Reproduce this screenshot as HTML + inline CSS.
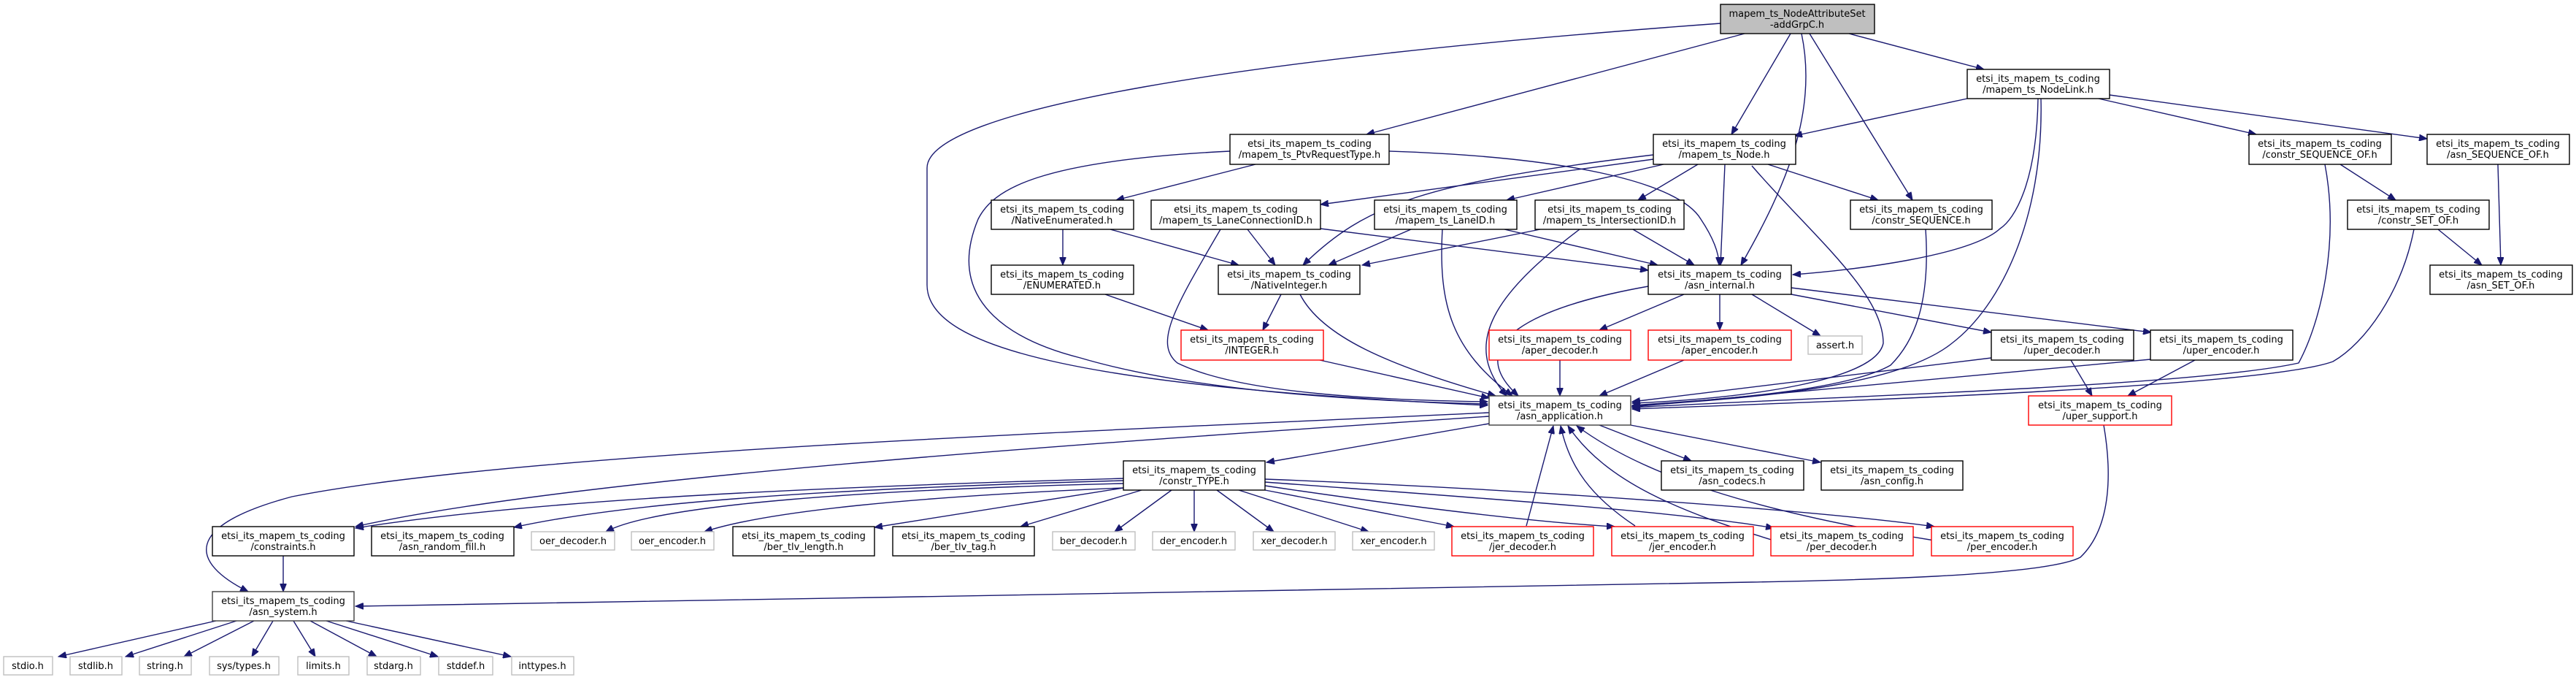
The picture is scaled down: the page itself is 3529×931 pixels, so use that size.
<!DOCTYPE html>
<html><head><meta charset="utf-8"><style>
html,body{margin:0;padding:0;background:#fff;width:3529px;height:931px;overflow:hidden}
svg{display:block}
text{font-family:"DejaVu Sans","Liberation Sans",sans-serif;font-size:13px;fill:#000;text-anchor:middle}
.e{fill:none;stroke:#191970;stroke-width:1.4}
.n{fill:#fff;stroke:#000;stroke-width:1.4}
.r{fill:#fff;stroke:#ff0000;stroke-width:1.4}
.g{fill:#fff;stroke:#bfbfbf;stroke-width:1.4}
.t{fill:#bfbfbf;stroke:#000;stroke-width:1.4}
</style></head><body>
<svg width="3529" height="931" viewBox="0 0 3529 931" xmlns="http://www.w3.org/2000/svg">
<defs><marker id="a" markerUnits="userSpaceOnUse" markerWidth="12" markerHeight="9" refX="11" refY="4.5" orient="auto"><path d="M0,0 L11,4.5 L0,9 z" fill="#191970" stroke="#191970"/></marker></defs>
<g class="e" marker-end="url(#a)">
<path d="M2357,32 C1700,80 1270,150 1270,230 L1270,390 C1270,480 1500,530 2038,555"/>
<path d="M2390,46 L1872,184"/>
<path d="M2453,46 L2372,184"/>
<path d="M2468,46 C2490,150 2450,250 2385,363"/>
<path d="M2479,46 L2620,274"/>
<path d="M2533,46 L2718,95"/>
<path d="M2695,135 L2458,186"/>
<path d="M2792,135 C2790,250 2760,300 2740,313 C2700,350 2540,370 2456,376"/>
<path d="M2796,135 C2800,300 2740,420 2674,470 C2600,530 2400,545 2236,556"/>
<path d="M2875,135 L3091,184"/>
<path d="M2890,130 L3325,190"/>
<path d="M3206,225 L3282,274"/>
<path d="M3185,225 C3205,330 3180,440 3149,497 C3000,530 2450,545 2236,558"/>
<path d="M3422,225 L3426,363"/>
<path d="M3340,314 L3400,363"/>
<path d="M3307,314 C3290,400 3240,470 3196,495 C3100,530 2500,550 2236,560"/>
<path d="M2638,314 C2645,420 2620,470 2590,500 C2520,540 2300,550 2236,555"/>
<path d="M2363,225 L2357,363"/>
<path d="M2422,225 L2573,274"/>
<path d="M2400,227 C2480,320 2580,400 2580,470 C2570,520 2400,545 2236,552"/>
<path d="M2265,212 C1950,250 1870,280 1785,363"/>
<path d="M2265,218 L1809,280"/>
<path d="M2279,225 L2064,274"/>
<path d="M2326,225 L2244,274"/>
<path d="M1685,207 C1420,220 1360,260 1340,300 C1290,420 1400,470 1480,490 C1650,540 1900,550 2038,553"/>
<path d="M1903,207 C2150,215 2300,250 2330,300 C2350,330 2355,350 2355,363"/>
<path d="M1720,225 L1529,274"/>
<path d="M1456,314 L1456,363"/>
<path d="M1521,314 L1697,363"/>
<path d="M1709,314 L1747,363"/>
<path d="M1809,313 L2258,370"/>
<path d="M1672,314 C1610,420 1580,470 1613,497 C1700,540 1900,548 2038,550"/>
<path d="M1933,314 L1820,363"/>
<path d="M2061,314 L2271,363"/>
<path d="M1976,314 C1970,420 1990,480 2072,542"/>
<path d="M2110,314 L1866,363"/>
<path d="M2237,314 L2321,363"/>
<path d="M2164,314 C2050,400 2000,470 2064,542"/>
<path d="M1514,403 L1655,452"/>
<path d="M1755,403 L1730,452"/>
<path d="M1781,403 C1810,460 1900,500 2049,542"/>
<path d="M2258,392 C2100,420 2000,470 2080,542"/>
<path d="M2307,403 L2191,452"/>
<path d="M2356,403 L2356,452"/>
<path d="M2400,403 L2494,460"/>
<path d="M2454,403 L2728,455"/>
<path d="M2454,394 L2947,455"/>
<path d="M1808,493 L2040,545"/>
<path d="M2137,493 L2137,542"/>
<path d="M2307,493 L2191,542"/>
<path d="M2728,490 L2236,550"/>
<path d="M2946,492 L2236,557"/>
<path d="M2837,493 L2866,542"/>
<path d="M3007,493 L2915,542"/>
<path d="M2882,582 C2892,640 2895,720 2850,763 C2800,790 2500,795 2400,797 L1200,818 L487,830"/>
<path d="M2040,565 C1500,590 700,620 400,680 C250,720 260,770 340,810"/>
<path d="M2040,580 L1735,633"/>
<path d="M2191,582 L2317,631"/>
<path d="M2234,582 L2494,633"/>
<path d="M388,761 L388,810"/>
<path d="M296,850 L80,899"/>
<path d="M324,850 L172,899"/>
<path d="M348,850 L252,899"/>
<path d="M374,850 L345,899"/>
<path d="M402,850 L432,899"/>
<path d="M425,850 L516,899"/>
<path d="M447,850 L600,899"/>
<path d="M474,850 L700,899"/>
<path d="M2040,570 C1600,600 800,650 487,721"/>
<path d="M1539,655 C1000,670 700,690 487,723"/>
<path d="M1539,658 C1100,670 850,690 704,722"/>
<path d="M1539,662 C1200,670 900,690 830,728"/>
<path d="M1539,668 C1250,680 1050,700 965,728"/>
<path d="M1539,668 L1198,722"/>
<path d="M1564,671 L1398,721"/>
<path d="M1605,671 L1527,728"/>
<path d="M1636,671 L1636,728"/>
<path d="M1667,671 L1745,728"/>
<path d="M1697,671 L1875,728"/>
<path d="M1733,671 L1992,721"/>
<path d="M1733,665 C1900,690 2100,715 2212,721"/>
<path d="M1733,660 C2000,680 2300,700 2430,723"/>
<path d="M1733,656 C2100,670 2500,700 2650,721"/>
<path d="M2091,720 L2128,583"/>
<path d="M2240,720 C2180,680 2150,640 2138,583"/>
<path d="M2430,740 C2300,700 2200,660 2148,583"/>
<path d="M2650,740 C2400,700 2250,650 2160,583"/>
</g>
<g>
<rect class="t" x="2357" y="6" width="211" height="40"/><text x="2462" y="23">mapem_ts_NodeAttributeSet</text><text x="2462" y="38">-addGrpC.h</text>
<rect class="n" x="2695" y="95" width="195" height="40"/><text x="2792" y="112">etsi_its_mapem_ts_coding</text><text x="2792" y="127">/mapem_ts_NodeLink.h</text>
<rect class="n" x="1685" y="184" width="218" height="41"/><text x="1794" y="201">etsi_its_mapem_ts_coding</text><text x="1794" y="216">/mapem_ts_PtvRequestType.h</text>
<rect class="n" x="2265" y="184" width="195" height="41"/><text x="2362" y="201">etsi_its_mapem_ts_coding</text><text x="2362" y="216">/mapem_ts_Node.h</text>
<rect class="n" x="3081" y="184" width="195" height="41"/><text x="3178" y="201">etsi_its_mapem_ts_coding</text><text x="3178" y="216">/constr_SEQUENCE_OF.h</text>
<rect class="n" x="3325" y="184" width="195" height="41"/><text x="3422" y="201">etsi_its_mapem_ts_coding</text><text x="3422" y="216">/asn_SEQUENCE_OF.h</text>
<rect class="n" x="1358" y="274" width="195" height="40"/><text x="1455" y="291">etsi_its_mapem_ts_coding</text><text x="1455" y="306">/NativeEnumerated.h</text>
<rect class="n" x="1577" y="274" width="232" height="40"/><text x="1693" y="291">etsi_its_mapem_ts_coding</text><text x="1693" y="306">/mapem_ts_LaneConnectionID.h</text>
<rect class="n" x="1883" y="274" width="195" height="40"/><text x="1980" y="291">etsi_its_mapem_ts_coding</text><text x="1980" y="306">/mapem_ts_LaneID.h</text>
<rect class="n" x="2103" y="274" width="204" height="40"/><text x="2205" y="291">etsi_its_mapem_ts_coding</text><text x="2205" y="306">/mapem_ts_IntersectionID.h</text>
<rect class="n" x="2535" y="274" width="194" height="40"/><text x="2632" y="291">etsi_its_mapem_ts_coding</text><text x="2632" y="306">/constr_SEQUENCE.h</text>
<rect class="n" x="3216" y="274" width="194" height="40"/><text x="3313" y="291">etsi_its_mapem_ts_coding</text><text x="3313" y="306">/constr_SET_OF.h</text>
<rect class="n" x="1358" y="363" width="195" height="40"/><text x="1455" y="380">etsi_its_mapem_ts_coding</text><text x="1455" y="395">/ENUMERATED.h</text>
<rect class="n" x="1669" y="363" width="194" height="40"/><text x="1766" y="380">etsi_its_mapem_ts_coding</text><text x="1766" y="395">/NativeInteger.h</text>
<rect class="n" x="2258" y="363" width="196" height="40"/><text x="2356" y="380">etsi_its_mapem_ts_coding</text><text x="2356" y="395">/asn_internal.h</text>
<rect class="n" x="3329" y="363" width="195" height="40"/><text x="3426" y="380">etsi_its_mapem_ts_coding</text><text x="3426" y="395">/asn_SET_OF.h</text>
<rect class="r" x="1618" y="452" width="195" height="41"/><text x="1715" y="469">etsi_its_mapem_ts_coding</text><text x="1715" y="484">/INTEGER.h</text>
<rect class="r" x="2040" y="452" width="194" height="41"/><text x="2137" y="469">etsi_its_mapem_ts_coding</text><text x="2137" y="484">/aper_decoder.h</text>
<rect class="r" x="2258" y="452" width="196" height="41"/><text x="2356" y="469">etsi_its_mapem_ts_coding</text><text x="2356" y="484">/aper_encoder.h</text>
<rect class="g" x="2477" y="460" width="74" height="25"/><text x="2514" y="477">assert.h</text>
<rect class="n" x="2728" y="452" width="195" height="41"/><text x="2825" y="469">etsi_its_mapem_ts_coding</text><text x="2825" y="484">/uper_decoder.h</text>
<rect class="n" x="2946" y="452" width="195" height="41"/><text x="3043" y="469">etsi_its_mapem_ts_coding</text><text x="3043" y="484">/uper_encoder.h</text>
<rect class="n" x="2040" y="542" width="194" height="40" style="stroke:#404040"/><text x="2137" y="559">etsi_its_mapem_ts_coding</text><text x="2137" y="574">/asn_application.h</text>
<rect class="r" x="2779" y="542" width="196" height="40"/><text x="2877" y="559">etsi_its_mapem_ts_coding</text><text x="2877" y="574">/uper_support.h</text>
<rect class="n" x="1539" y="631" width="194" height="40"/><text x="1636" y="648">etsi_its_mapem_ts_coding</text><text x="1636" y="663">/constr_TYPE.h</text>
<rect class="n" x="2276" y="631" width="195" height="40"/><text x="2373" y="648">etsi_its_mapem_ts_coding</text><text x="2373" y="663">/asn_codecs.h</text>
<rect class="n" x="2495" y="631" width="194" height="40"/><text x="2592" y="648">etsi_its_mapem_ts_coding</text><text x="2592" y="663">/asn_config.h</text>
<rect class="n" x="291" y="721" width="194" height="40"/><text x="388" y="738">etsi_its_mapem_ts_coding</text><text x="388" y="753">/constraints.h</text>
<rect class="n" x="509" y="721" width="195" height="40"/><text x="606" y="738">etsi_its_mapem_ts_coding</text><text x="606" y="753">/asn_random_fill.h</text>
<rect class="g" x="728" y="728" width="114" height="25"/><text x="785" y="745">oer_decoder.h</text>
<rect class="g" x="865" y="728" width="113" height="25"/><text x="921" y="745">oer_encoder.h</text>
<rect class="n" x="1004" y="721" width="194" height="40"/><text x="1101" y="738">etsi_its_mapem_ts_coding</text><text x="1101" y="753">/ber_tlv_length.h</text>
<rect class="n" x="1223" y="721" width="194" height="40"/><text x="1320" y="738">etsi_its_mapem_ts_coding</text><text x="1320" y="753">/ber_tlv_tag.h</text>
<rect class="g" x="1442" y="728" width="113" height="25"/><text x="1498" y="745">ber_decoder.h</text>
<rect class="g" x="1579" y="728" width="113" height="25"/><text x="1635" y="745">der_encoder.h</text>
<rect class="g" x="1717" y="728" width="112" height="25"/><text x="1773" y="745">xer_decoder.h</text>
<rect class="g" x="1853" y="728" width="112" height="25"/><text x="1909" y="745">xer_encoder.h</text>
<rect class="r" x="1989" y="721" width="194" height="40"/><text x="2086" y="738">etsi_its_mapem_ts_coding</text><text x="2086" y="753">/jer_decoder.h</text>
<rect class="r" x="2208" y="721" width="194" height="40"/><text x="2305" y="738">etsi_its_mapem_ts_coding</text><text x="2305" y="753">/jer_encoder.h</text>
<rect class="r" x="2426" y="721" width="195" height="40"/><text x="2523" y="738">etsi_its_mapem_ts_coding</text><text x="2523" y="753">/per_decoder.h</text>
<rect class="r" x="2646" y="721" width="194" height="40"/><text x="2743" y="738">etsi_its_mapem_ts_coding</text><text x="2743" y="753">/per_encoder.h</text>
<rect class="n" x="291" y="810" width="194" height="40" style="stroke:#404040"/><text x="388" y="827">etsi_its_mapem_ts_coding</text><text x="388" y="842">/asn_system.h</text>
<rect class="g" x="5" y="899" width="67" height="25"/><text x="38" y="916">stdio.h</text>
<rect class="g" x="96" y="899" width="71" height="25"/><text x="131" y="916">stdlib.h</text>
<rect class="g" x="191" y="899" width="71" height="25"/><text x="226" y="916">string.h</text>
<rect class="g" x="287" y="899" width="95" height="25"/><text x="334" y="916">sys/types.h</text>
<rect class="g" x="408" y="899" width="70" height="25"/><text x="443" y="916">limits.h</text>
<rect class="g" x="503" y="899" width="73" height="25"/><text x="539" y="916">stdarg.h</text>
<rect class="g" x="601" y="899" width="74" height="25"/><text x="638" y="916">stddef.h</text>
<rect class="g" x="701" y="899" width="85" height="25"/><text x="743" y="916">inttypes.h</text>
</g>
</svg>
</body></html>
